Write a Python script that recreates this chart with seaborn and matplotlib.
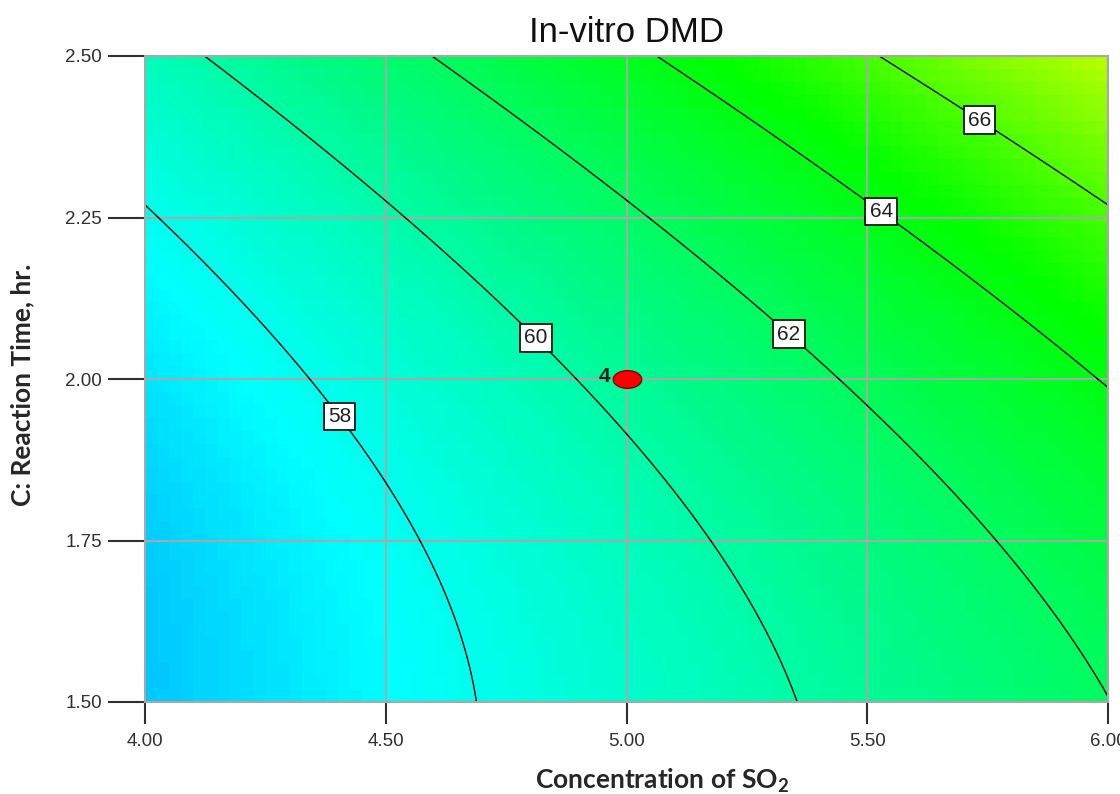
import numpy as np
import matplotlib
matplotlib.use("Agg")
import matplotlib.pyplot as plt
from matplotlib.colors import LinearSegmentedColormap
from matplotlib.path import Path
import seaborn as sns

# ---- data ----
x_ticks = [4.00, 4.50, 5.00, 5.50, 6.00]
y_ticks = [1.50, 1.75, 2.00, 2.25, 2.50]
x_tick_labels = ["4.00", "4.50", "5.00", "5.50", "6.00"]
y_tick_labels = ["1.50", "1.75", "2.00", "2.25", "2.50"]
# quadratic response-surface model (coded units): b0, A, C, AC, A^2, C^2
model_terms = ["b0", "A", "C", "AC", "A2", "C2"]
model_coefs = [60.38, 3.65, 2.40, 0.65, 0.05, 0.95]
contour_levels = [58, 60, 62, 64, 66]
label_x = [4.40, 4.82, 5.35, 5.53, 5.75]
label_y = [1.94, 2.07, 2.08, 2.26, 2.42]
design_x = [5.00]
design_y = [2.00]
design_label = ["4"]

# colour scale stops (response value -> colour)
cmap_values = [50.5, 57.5, 60.8, 64.5, 68.0, 69.5, 78.0]
cmap_colors = ["#0000ff", "#00ffff", "#00fa8a", "#00ff00", "#b4ff00", "#ffff00", "#ff0000"]

sns.set_style("white")
plt.rcParams["font.family"] = ["Liberation Sans", "DejaVu Sans"]
plt.rcParams["mathtext.default"] = "regular"

fig = plt.figure(figsize=(11.2, 7.94), dpi=100)
ax = fig.add_axes([145 / 1120, 1 - 702 / 794, (1108 - 145) / 1120, (702 - 56) / 794])

b = dict(zip(model_terms, model_coefs))


def response(xv, yv):
    A = (xv - 5.0) / 1.0
    C = (yv - 2.0) / 0.5
    return (b["b0"] + b["A"] * A + b["C"] * C + b["AC"] * A * C
            + b["A2"] * A ** 2 + b["C2"] * C ** 2)


xs = np.linspace(4.0, 6.0, 241)
ys = np.linspace(1.5, 2.5, 161)
X, Y = np.meshgrid(xs, ys)
Z = response(X, Y)

vmin, vmax = cmap_values[0], cmap_values[-1]
stops = [(v - vmin) / (vmax - vmin) for v in cmap_values]
cmap = LinearSegmentedColormap.from_list("de", list(zip(stops, cmap_colors)))

# blocky colour fill like the original
xb = np.linspace(4.0, 6.0, 81)
yb = np.linspace(1.5, 2.5, 51)
XB, YB = np.meshgrid((xb[:-1] + xb[1:]) / 2, (yb[:-1] + yb[1:]) / 2)
ZB = response(XB, YB)
ax.pcolormesh(xb, yb, ZB, cmap=cmap, vmin=vmin, vmax=vmax, shading="flat", zorder=0)

# grid
for xt in x_ticks:
    ax.axvline(xt, color="#a8a8a8", lw=1.5, zorder=1)
for yt in y_ticks:
    ax.axhline(yt, color="#a8a8a8", lw=1.5, zorder=1)

cs = ax.contour(X, Y, Z, levels=contour_levels, colors="black", linewidths=1.0, zorder=2)
texts = ax.clabel(cs, levels=contour_levels, inline=True, inline_spacing=4, fmt="%d",
                  fontsize=15, manual=list(zip(label_x, label_y)))
for t in texts:
    t.set_rotation(0)
    t.set_color("#202020")
    t.set_bbox(dict(boxstyle="square,pad=0.2", facecolor="white", edgecolor="black", linewidth=1.2))
    t.set_zorder(5)

# design point
theta = np.linspace(0, 2 * np.pi, 60)
ell = Path(np.column_stack([np.cos(theta), 0.62 * np.sin(theta)]), closed=True)
sns.scatterplot(x=design_x, y=design_y, marker=ell, s=420, color="#ff0000",
                edgecolor="#800000", linewidth=1.0, ax=ax, zorder=6, legend=False)
for dx, dy, lab in zip(design_x, design_y, design_label):
    ax.annotate(lab, (dx, dy), xytext=(-12, 2), textcoords="offset points",
                ha="right", va="center", fontsize=15, fontweight="bold", color="#202020", zorder=6)

ax.set_xlim(4.0, 6.0)
ax.set_ylim(1.5, 2.5)
ax.set_xticks(x_ticks)
ax.set_xticklabels(x_tick_labels)
ax.set_yticks(y_ticks)
ax.set_yticklabels(y_tick_labels)
ax.tick_params(axis="x", which="major", direction="out", length=16, width=1.5,
               color="#303030", labelsize=13.5, labelcolor="#303030", pad=6, bottom=True)
ax.tick_params(axis="y", which="major", direction="out", length=27, width=1.5,
               color="#303030", labelsize=13.5, labelcolor="#303030", pad=4, left=True)
for sp in ax.spines.values():
    sp.set_color("#a8a8a8")
    sp.set_linewidth(1.5)

ax.set_title("In-vitro DMD", fontsize=25, color="#101010", pad=10)
ax.set_xlabel("Concentration of SO$_2$", fontsize=19, fontweight="bold",
              family=["Lato", "DejaVu Sans"], va="center")
ax.xaxis.set_label_coords((662 - 145) / 963, (702 - 781) / 646)
ax.set_ylabel("C: Reaction Time, hr.", fontsize=19, fontweight="bold",
              family=["Lato", "DejaVu Sans"], va="center")
ax.yaxis.set_label_coords((22 - 145) / 963, (702 - 385) / 646)

fig.savefig("out.png", dpi=100)
